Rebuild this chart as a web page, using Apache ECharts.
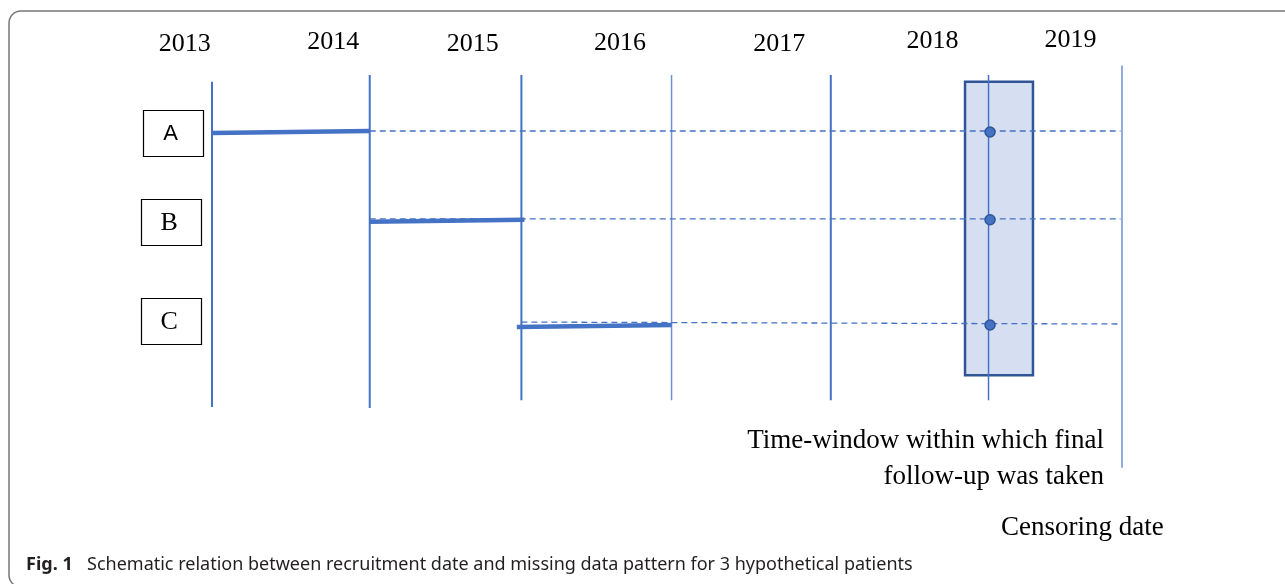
<!DOCTYPE html>
<html>
<head>
<meta charset="utf-8">
<title>Fig. 1</title>
<script src="https://cdn.jsdelivr.net/npm/echarts@6/dist/echarts.min.js"></script>
<style>
  html, body { margin: 0; padding: 0; background: #fff; }
  #main { width: 1285px; height: 584px; }
</style>
</head>
<body>
<div id="main"></div>
<script>
// years across the top, and where each year line sits (x in years, y in row units)
const years = ['2013', '2014', '2015', '2016', '2017', '2018', '2019'];
const yearLabelX = [2012.82, 2013.80, 2014.72, 2015.69, 2016.74, 2017.75, 2018.66];
const yearLabelY = [-0.90, -0.92, -0.90, -0.91, -0.90, -0.93, -0.94];
const yearLineX = [2013, 2014.04, 2015.04, 2016.03, 2017.08, 2018.12, 2019];
const yearLineTop = [-0.51, -0.58, -0.58, -0.58, -0.58, -0.58, -0.68];
const yearLineBottom = [2.86, 2.87, 2.79, 2.79, 2.79, 2.79, 3.49];

// hypothetical patients, row 0 = A
const patients = ['A', 'B', 'C'];
const patientBoxX = [2012.74, 2012.73, 2012.73];
const patientBoxY = [0.02, 0.94, 1.97];

// observed follow-up (thick line)
const observedStart = [2013, 2014.04, 2015.01];
const observedEnd = [2014.04, 2015.06, 2016.03];
const observedY0 = [0.02, 0.94, 2.03];
const observedY1 = [0, 0.92, 2.01];

// missing part up to censoring (dashed)
const missingStart = [2014.04, 2014.04, 2015.04];
const missingEnd = [2018.99, 2018.99, 2018.99];
const missingY0 = [0, 0.91, 1.98];
const missingY1 = [0, 0.91, 2.0];

// final follow-up points
const finalX = [2018.13, 2018.13, 2018.13];
const finalY = [0.01, 0.92, 2.01];

// time-window for final follow-up
const windowX = [2017.965, 2018.413];
const windowY = [-0.51, 2.53];

const BLUE = '#4472c4';
const SERIF = '"Liberation Serif", "Times New Roman", serif';

const chart = echarts.init(document.getElementById('main'));

function segment(api, x0, y0, x1, y1, style) {
  const p0 = api.coord([x0, y0]);
  const p1 = api.coord([x1, y1]);
  return {type: 'line', shape: {x1: p0[0], y1: p0[1], x2: p1[0], y2: p1[1]}, style: style};
}

const option = {
  animation: false,
  grid: {left: 212, right: 163, top: 131, bottom: 260},
  xAxis: {type: 'value', min: 2013, max: 2019, show: false},
  yAxis: {type: 'value', min: 0, max: 2, inverse: true, show: false},
  graphic: [
    // figure frame
    {type: 'rect', shape: {x: 9, y: 11, width: 1300, height: 576, r: 12},
      style: {fill: 'none', stroke: '#777', lineWidth: 1.5}, z: -10},
    {type: 'text', x: 1104, y: 441,
      style: {text: 'Time-window within which final', font: '27px ' + SERIF, fill: '#000', align: 'right', verticalAlign: 'middle'}},
    {type: 'text', x: 1104, y: 477,
      style: {text: 'follow-up was taken', font: '27px ' + SERIF, fill: '#000', align: 'right', verticalAlign: 'middle'}},
    {type: 'text', x: 1001, y: 528,
      style: {text: 'Censoring date', font: '27px ' + SERIF, fill: '#000', align: 'left', verticalAlign: 'middle'}},
    {type: 'text', x: 26, y: 565,
      style: {text: 'Fig. 1', font: 'bold 18px "Noto Sans"', fill: '#231f20', align: 'left', verticalAlign: 'middle'}},
    {type: 'text', x: 87, y: 565,
      style: {text: 'Schematic relation between recruitment date and missing data pattern for 3 hypothetical patients',
        font: '18px "Noto Sans"', fill: '#231f20', align: 'left', verticalAlign: 'middle'}}
  ],
  series: [
    {
      // time-window box
      type: 'custom', clip: false, z: 1,
      data: [[windowX[0], windowY[0], windowX[1], windowY[1]]],
      renderItem: function (params, api) {
        const p0 = api.coord([api.value(0), api.value(1)]);
        const p1 = api.coord([api.value(2), api.value(3)]);
        return {type: 'rect', shape: {x: p0[0], y: p0[1], width: p1[0] - p0[0], height: p1[1] - p0[1]},
          style: {fill: '#d6dff1', stroke: '#2f5597', lineWidth: 2.5}};
      }
    },
    {
      // year lines
      type: 'custom', clip: false, z: 2,
      data: yearLineX.map((x, i) => [x, yearLineTop[i], yearLineBottom[i], i]),
      renderItem: function (params, api) {
        const i = api.value(3);
        const light = i === 3 || i === 6;
        const thin = light || i === 5;
        return segment(api, api.value(0), api.value(1), api.value(0), api.value(2),
          {stroke: light ? '#6d8fd3' : BLUE, lineWidth: thin ? 1.5 : 2});
      }
    },
    {
      // year labels
      type: 'custom', clip: false, z: 2,
      data: yearLabelX.map((x, i) => [x, yearLabelY[i], i]),
      renderItem: function (params, api) {
        const p = api.coord([api.value(0), api.value(1)]);
        return {type: 'text', x: p[0], y: p[1],
          style: {text: years[api.value(2)], font: '26px ' + SERIF, fill: '#000', align: 'center', verticalAlign: 'middle'}};
      }
    },
    {
      // missing (dashed)
      type: 'custom', clip: false, z: 3,
      data: missingStart.map((x, i) => [x, missingY0[i], missingEnd[i], missingY1[i]]),
      renderItem: function (params, api) {
        return segment(api, api.value(0), api.value(1), api.value(2), api.value(3),
          {stroke: BLUE, lineWidth: 1.3, lineDash: [6, 4]});
      }
    },
    {
      // observed (thick)
      type: 'custom', clip: false, z: 4,
      data: observedStart.map((x, i) => [x, observedY0[i], observedEnd[i], observedY1[i]]),
      renderItem: function (params, api) {
        return segment(api, api.value(0), api.value(1), api.value(2), api.value(3),
          {stroke: BLUE, lineWidth: 4.5});
      }
    },
    {
      // final follow-up dots
      type: 'custom', clip: false, z: 5,
      data: finalX.map((x, i) => [x, finalY[i]]),
      renderItem: function (params, api) {
        const p = api.coord([api.value(0), api.value(1)]);
        return {type: 'circle', shape: {cx: p[0], cy: p[1], r: 5},
          style: {fill: BLUE, stroke: '#2f5597', lineWidth: 1.5}};
      }
    },
    {
      // patient boxes
      type: 'custom', clip: false, z: 5,
      data: patientBoxX.map((x, i) => [x, patientBoxY[i], i]),
      renderItem: function (params, api) {
        const p = api.coord([api.value(0), api.value(1)]);
        const i = api.value(2);
        const font = i === 0 ? '22px "Liberation Sans", Arial, sans-serif' : '26px ' + SERIF;
        return {type: 'group', children: [
          {type: 'rect', shape: {x: Math.round(p[0] - 30) + 0.5, y: Math.round(p[1] - 23) + 0.5, width: 60, height: 46},
            style: {fill: '#fff', stroke: '#000', lineWidth: 1.2}},
          {type: 'text', x: p[0] - 2, y: p[1] + 1,
            style: {text: patients[i], font: font, fill: '#000', align: 'center', verticalAlign: 'middle'}}
        ]};
      }
    }
  ]
};

chart.setOption(option);
</script>
</body>
</html>
